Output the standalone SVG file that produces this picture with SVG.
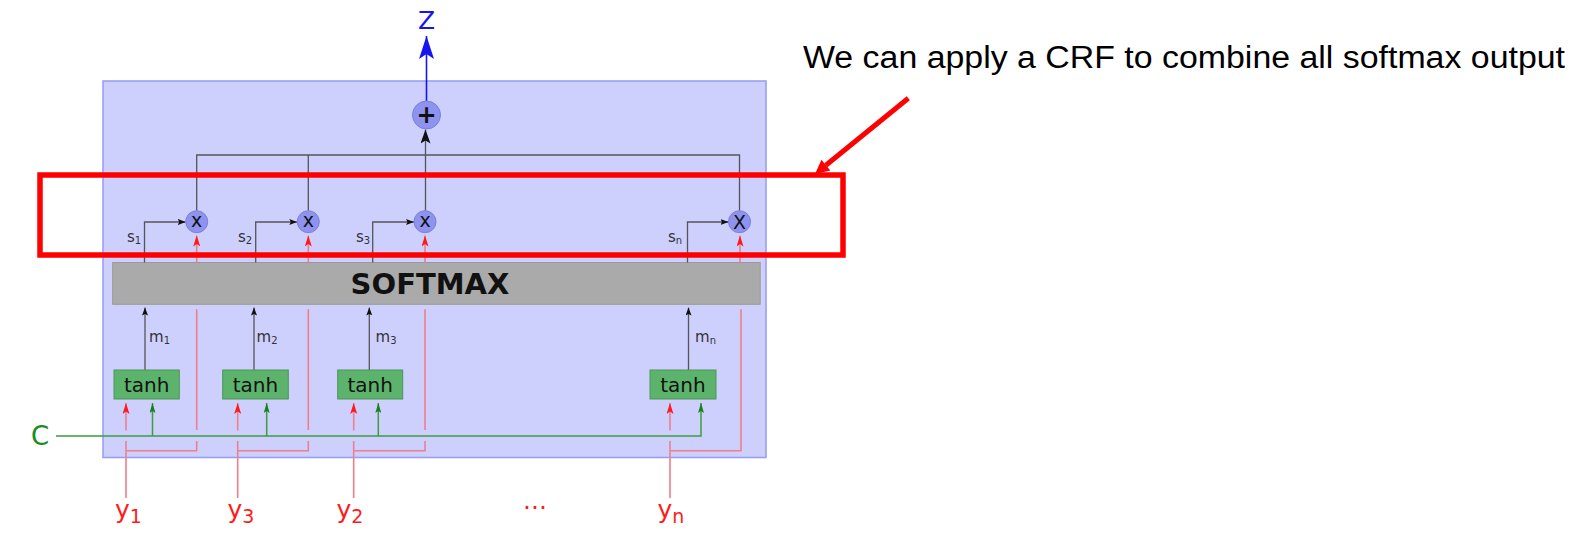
<svg xmlns="http://www.w3.org/2000/svg" width="1590" height="551" viewBox="0 0 1590 551">
  <defs>
    <style>
      .gray{stroke:#555;stroke-width:1.3;fill:none}
      .pink{stroke:#ef7f8b;stroke-width:1.6;fill:none}
      .grn{stroke:#3d9d3d;stroke-width:1.5;fill:none}
      .mul{fill:#8d93ee;stroke:#7b80dc;stroke-width:1}
      .tanh{fill:#5cb46c;stroke:#4a9556;stroke-width:1}
      .sans{font-family:'DejaVu Sans','Liberation Sans',sans-serif}
      .small{font-size:15px;fill:#333}
      .sub{font-size:10px}
      .ylab{font-size:25px;fill:#ff1a1a}
      .ysub{font-size:19px}
      .op{font-size:19px;fill:#111;text-anchor:middle}
      .tt{font-size:20px;fill:#111;text-anchor:middle}
    </style>
    <marker id="hBlack" viewBox="0 0 8 6" refX="8" refY="3" markerWidth="8" markerHeight="6" orient="auto" markerUnits="userSpaceOnUse">
      <path d="M0,0 L8,3 L0,6 L1.5,3 Z" fill="#111"/>
    </marker>
    <marker id="hBig" viewBox="0 0 14 10" refX="14" refY="5" markerWidth="14" markerHeight="10" orient="auto" markerUnits="userSpaceOnUse">
      <path d="M0,0 L14,5 L0,10 L3,5 Z" fill="#111"/>
    </marker>
    <marker id="hBlue" viewBox="0 0 23 15" refX="23" refY="7.5" markerWidth="23" markerHeight="15" orient="auto" markerUnits="userSpaceOnUse">
      <path d="M0,0 L23,7.5 L0,15 L5,7.5 Z" fill="#1515f0"/>
    </marker>
    <marker id="hRed" viewBox="0 0 11 7" refX="11" refY="3.5" markerWidth="11" markerHeight="7" orient="auto" markerUnits="userSpaceOnUse">
      <path d="M0,0 L11,3.5 L0,7 L2.5,3.5 Z" fill="#ff1a1a"/>
    </marker>
    <marker id="hGreen" viewBox="0 0 10 6" refX="10" refY="3" markerWidth="10" markerHeight="6" orient="auto" markerUnits="userSpaceOnUse">
      <path d="M0,0 L10,3 L0,6 L2,3 Z" fill="#1a801a"/>
    </marker>
  </defs>

  <rect width="1590" height="551" fill="#ffffff"/>

  <!-- attention block container -->
  <g id="block">
    <rect x="103" y="81" width="663" height="376.5" fill="#cdd0fd" stroke="#9a9ef3" stroke-width="1.6"/>
  </g>

  <g id="softmax">
    <rect x="112.7" y="262.5" width="647.5" height="41.8" fill="#aaaaaa" stroke="#9a9a9a" stroke-width="1"/>
    <text x="430" y="294" class="sans" font-size="29" font-weight="bold" fill="#111" text-anchor="middle">SOFTMAX</text>
  </g>

  <!-- connectors -->
  <g id="connectors">
    <!-- output bus into the sum -->
    <path class="gray" d="M196.7,210.7 V155 H739.5 V210.7 M308.3,155 V210.7 M425.5,155 V210.7"/>
    <path class="gray" d="M425.5,155 V129.5" marker-end="url(#hBig)"/>
    <path d="M426.5,101 V36" stroke="#1515f0" stroke-width="1.6" fill="none" marker-end="url(#hBlue)"/>

    <!-- softmax scores into the products -->
    <path class="gray" d="M144.5,262.5 V222 H185.7" marker-end="url(#hBlack)"/>
    <path class="gray" d="M255.7,262.5 V222 H297.3" marker-end="url(#hBlack)"/>
    <path class="gray" d="M372.7,262.5 V222 H414" marker-end="url(#hBlack)"/>
    <path class="gray" d="M687.5,262.5 V222 H728.5" marker-end="url(#hBlack)"/>

    <!-- tanh outputs into softmax -->
    <path class="gray" d="M145,370 V307.5" marker-end="url(#hBlack)"/>
    <path class="gray" d="M254,370 V307.5" marker-end="url(#hBlack)"/>
    <path class="gray" d="M369.3,370 V307.5" marker-end="url(#hBlack)"/>
    <path class="gray" d="M688.5,370 V307.5" marker-end="url(#hBlack)"/>

    <!-- inputs y into the products -->
    <path class="pink" d="M196.7,262.5 V235.5" marker-end="url(#hRed)"/>
    <path class="pink" d="M308.3,262.5 V235.5" marker-end="url(#hRed)"/>
    <path class="pink" d="M425,262.5 V235.5" marker-end="url(#hRed)"/>
    <path class="pink" d="M740,262.5 V235.5" marker-end="url(#hRed)"/>

    <!-- inputs y into tanh, with the bypass to the products -->
    <path class="pink" d="M126,498 V441 M126,450.7 H196.7 V441 M196.7,430 V309.3"/>
    <path class="pink" d="M126,430.5 V403" marker-end="url(#hRed)"/>
    <path class="pink" d="M237.7,498 V441 M237.7,450.7 H308.3 V441 M308.3,430 V309.3"/>
    <path class="pink" d="M237.7,430.5 V403" marker-end="url(#hRed)"/>
    <path class="pink" d="M353.7,498 V441 M353.7,450.7 H425 V441 M425,430 V309.3"/>
    <path class="pink" d="M353.7,430.5 V403" marker-end="url(#hRed)"/>
    <path class="pink" d="M670,498 V441 M670,450.7 H741 V309.3"/>
    <path class="pink" d="M670,430.5 V403" marker-end="url(#hRed)"/>

    <!-- context C into every tanh -->
    <path class="grn" d="M56,436 H701 V403" marker-end="url(#hGreen)"/>
    <path class="grn" d="M152.5,436 V403" marker-end="url(#hGreen)"/>
    <path class="grn" d="M266.7,436 V403" marker-end="url(#hGreen)"/>
    <path class="grn" d="M378.3,436 V403" marker-end="url(#hGreen)"/>
  </g>

  <!-- products -->
  <g id="mul1"><circle class="mul" cx="196.7" cy="221.7" r="11"/><text x="196.7" y="227" class="sans op">x</text></g>
  <g id="mul2"><circle class="mul" cx="308.3" cy="221.7" r="11"/><text x="308.3" y="227" class="sans op">x</text></g>
  <g id="mul3"><circle class="mul" cx="425" cy="221.7" r="11"/><text x="425" y="227" class="sans op">x</text></g>
  <g id="muln"><circle class="mul" cx="739.5" cy="221.7" r="11"/><text x="739.5" y="228.6" class="sans op">X</text></g>

  <!-- sum -->
  <g id="sum">
    <circle class="mul" cx="426.5" cy="115" r="14"/>
    <text x="426.5" y="123" class="sans" font-size="24" font-weight="bold" fill="#111" text-anchor="middle">+</text>
  </g>

  <!-- tanh units -->
  <g id="tanh1"><rect class="tanh" x="114" y="370" width="65.3" height="29"/><text x="146.7" y="391.5" class="sans tt">tanh</text></g>
  <g id="tanh2"><rect class="tanh" x="222.7" y="370" width="65.6" height="29"/><text x="255.5" y="391.5" class="sans tt">tanh</text></g>
  <g id="tanh3"><rect class="tanh" x="337.7" y="370" width="65" height="29"/><text x="370.2" y="391.5" class="sans tt">tanh</text></g>
  <g id="tanhn"><rect class="tanh" x="650" y="370" width="66" height="29"/><text x="683" y="391.5" class="sans tt">tanh</text></g>

  <!-- labels -->
  <g id="labels" class="sans">
    <text x="426.5" y="28.5" font-size="25" fill="#1515f0" text-anchor="middle">Z</text>
    <text x="31" y="444.5" font-size="26" fill="#1a8c1a">C</text>

    <text x="127" y="242" class="small">s<tspan class="sub" dy="2">1</tspan></text>
    <text x="238" y="242" class="small">s<tspan class="sub" dy="2">2</tspan></text>
    <text x="356" y="242" class="small">s<tspan class="sub" dy="2">3</tspan></text>
    <text x="668" y="242" class="small">s<tspan class="sub" dy="2">n</tspan></text>

    <text x="149" y="341.7" class="small">m<tspan class="sub" dy="2">1</tspan></text>
    <text x="256.5" y="341.7" class="small">m<tspan class="sub" dy="2">2</tspan></text>
    <text x="375.5" y="341.7" class="small">m<tspan class="sub" dy="2">3</tspan></text>
    <text x="695" y="341.7" class="small">m<tspan class="sub" dy="2">n</tspan></text>

    <text x="115" y="518" class="ylab">y<tspan class="ysub" dy="5">1</tspan></text>
    <text x="227.5" y="518" class="ylab">y<tspan class="ysub" dy="5">3</tspan></text>
    <text x="336.5" y="518" class="ylab">y<tspan class="ysub" dy="5">2</tspan></text>
    <text x="523" y="509" class="ylab">...</text>
    <text x="657.5" y="518" class="ylab">y<tspan class="ysub" dy="5">n</tspan></text>
  </g>

  <!-- CRF callout -->
  <g id="callout">
    <rect x="40" y="175" width="803" height="80" fill="none" stroke="#ff0000" stroke-width="5.5"/>
    <line x1="908.3" y1="98.3" x2="825.9" y2="165.2" stroke="#ff0000" stroke-width="5"/>
    <polygon points="815,174 830.3,170.6 821.5,159.8" fill="#ff0000"/>
    <text x="803" y="68" font-family="'Liberation Sans',Arial,sans-serif" font-size="31" fill="#000" textLength="762" lengthAdjust="spacingAndGlyphs">We can apply a CRF to combine all softmax output</text>
  </g>
</svg>
